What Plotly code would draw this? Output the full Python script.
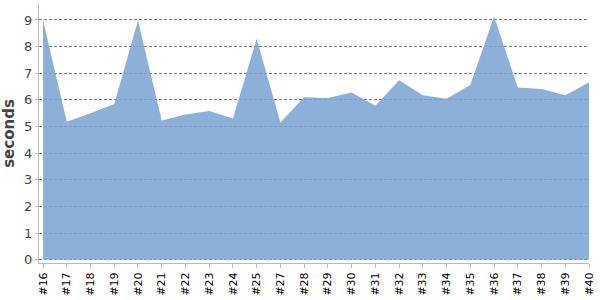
import plotly.graph_objects as go

categories = ["#16", "#17", "#18", "#19", "#20", "#21", "#22", "#23", "#24", "#25",
              "#27", "#28", "#29", "#30", "#31", "#32", "#33", "#34", "#35", "#36",
              "#37", "#38", "#39", "#40"]
seconds = [9.0, 5.18, 5.5, 5.85, 8.98, 5.23, 5.45, 5.58, 5.3, 8.3,
           5.15, 6.1, 6.07, 6.28, 5.78, 6.74, 6.18, 6.04, 6.56, 9.13,
           6.47, 6.41, 6.18, 6.65]
y_ticks = list(range(0, 10))

fig = go.Figure()
fig.add_trace(go.Scatter(
    x=categories, y=seconds, mode="lines", fill="tozeroy",
    line=dict(width=0, color="rgba(121,162,210,0.85)"),
    fillcolor="rgba(121,162,210,0.85)", hoverinfo="x+y", showlegend=False,
))

fig.update_layout(
    width=600, height=300,
    margin=dict(l=39, r=9, t=4, b=32),
    paper_bgcolor="white", plot_bgcolor="white",
    font=dict(family="DejaVu Sans", color="#444"),
    xaxis=dict(
        type="category", range=[-0.17, len(categories) - 1],
        showgrid=False, showline=True, linecolor="#bbb", linewidth=1,
        ticks="outside", ticklen=4, tickcolor="#bbb",
        tickangle=-90, tickfont=dict(size=11, color="#000"),
        zeroline=False,
    ),
    yaxis=dict(
        range=[-0.12, 9.6], tickvals=y_ticks,
        showgrid=True, gridcolor="#777", griddash="3px,2px", gridwidth=1,
        showline=True, linecolor="#bbb", linewidth=1,
        ticks="outside", ticklen=3, tickcolor="#bbb",
        tickfont=dict(size=13, color="#444"), zeroline=False,
        title=dict(text="seconds", font=dict(size=15, color="#444", weight="bold"), standoff=5),
    ),
)

fig.write_html("out.html")
